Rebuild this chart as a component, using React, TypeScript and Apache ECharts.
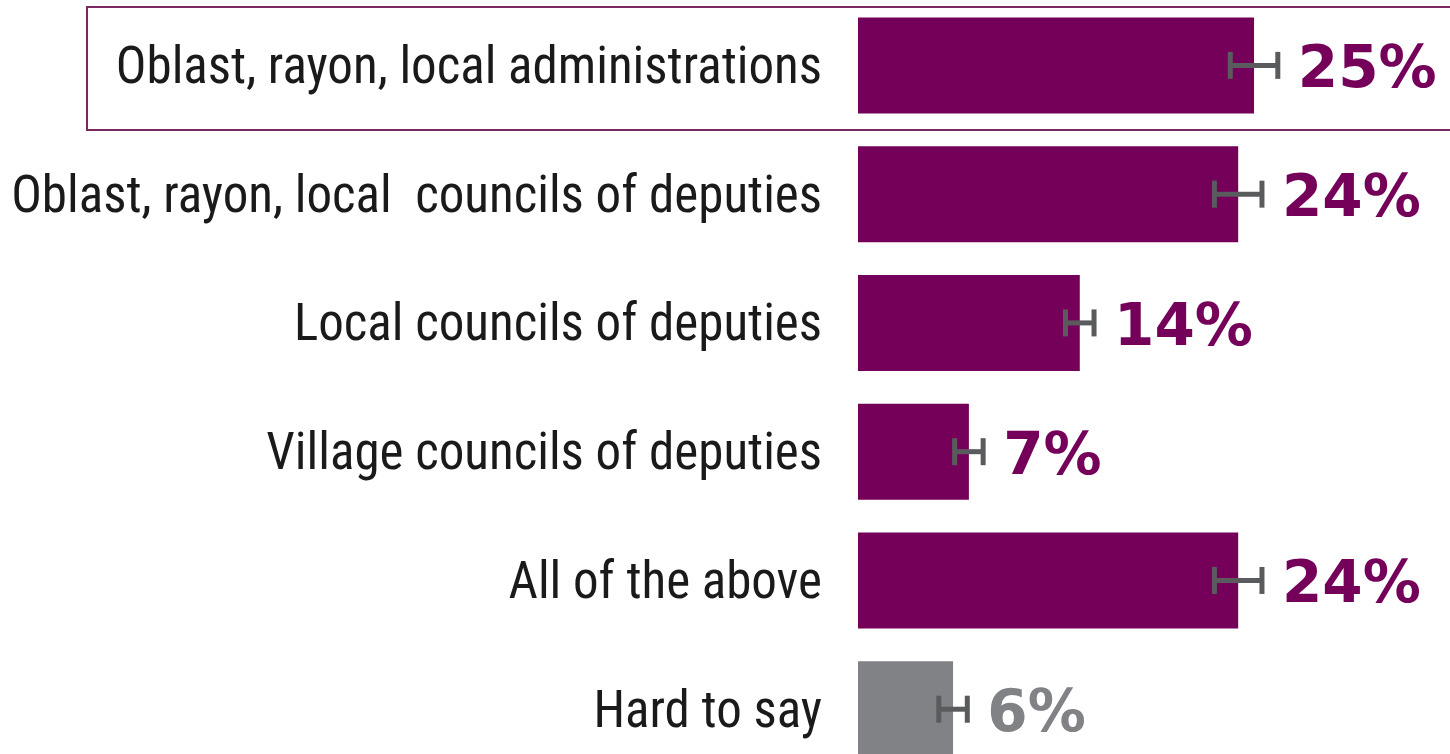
import React, { useEffect, useRef } from "react";
import * as echarts from "echarts";

const categories = [
  "Oblast, rayon, local administrations",
  "Oblast, rayon, local  councils of deputies",
  "Local councils of deputies",
  "Village councils of deputies",
  "All of the above",
  "Hard to say",
];
const values = [25, 24, 14, 7, 24, 6];
const errors = [1.5, 1.5, 0.9, 0.9, 1.5, 0.9];
const valueLabels = ["25%", "24%", "14%", "7%", "24%", "6%"];
const isNeutral = [false, false, false, false, false, true];

const PURPLE = "#74005a";
const GRAY = "#808285";
const ERR = "#5a5b5d";

export default function App() {
  const ref = useRef<HTMLDivElement>(null);
  useEffect(() => {
    if (!ref.current) return;
    const chart = echarts.init(ref.current, null, { renderer: "svg" });
    chart.setOption({
      animation: false,
      backgroundColor: "#ffffff",
      grid: { left: 858, top: 1, width: 592, height: 772.6 },
      xAxis: { type: "value", min: 0, max: 37.37, show: false },
      yAxis: {
        type: "category",
        inverse: true,
        data: categories,
        axisLine: { show: false },
        axisTick: { show: false },
        splitLine: { show: false },
        axisLabel: {
          margin: 36,
          color: "#1a1a1a",
          fontSize: 51,
          fontFamily: "'Liberation Sans Narrow', 'Roboto Condensed', Roboto, sans-serif",
        },
      },
      graphic: [
        {
          type: "rect",
          z: -10,
          shape: { x: 87, y: 7, width: 1400, height: 123 },
          style: { fill: "none", stroke: "#7a2862", lineWidth: 2 },
        },
      ],
      series: [
        {
          type: "bar",
          barWidth: 96,
          data: values.map((v, i) => ({
            value: v,
            itemStyle: { color: isNeutral[i] ? GRAY : PURPLE },
          })),
        },
        {
          type: "custom",
          z: 5,
          encode: { x: [0, 2], y: 1 },
          data: values.map((v, i) => [v, i, errors[i]]),
          renderItem: (params: any, api: any) => {
            const v = api.value(0);
            const idx = api.value(1);
            const e = api.value(2);
            const lo = api.coord([v - e, idx]);
            const hi = api.coord([v + e, idx]);
            const h = 13.5;
            const i = params.dataIndex;
            const lineStyle = { stroke: ERR, lineWidth: 5 };
            return {
              type: "group",
              children: [
                { type: "line", shape: { x1: lo[0], y1: lo[1], x2: hi[0], y2: hi[1] }, style: lineStyle },
                { type: "line", shape: { x1: lo[0], y1: lo[1] - h, x2: lo[0], y2: lo[1] + h }, style: lineStyle },
                { type: "line", shape: { x1: hi[0], y1: hi[1] - h, x2: hi[0], y2: hi[1] + h }, style: lineStyle },
                {
                  type: "text",
                  x: hi[0] + 20,
                  y: hi[1] + 2,
                  style: {
                    text: valueLabels[i],
                    fill: isNeutral[i] ? GRAY : PURPLE,
                    fontSize: 58,
                    fontWeight: "bold",
                    fontFamily: "'DejaVu Sans', sans-serif",
                    align: "left",
                    verticalAlign: "middle",
                  },
                },
              ],
            };
          },
        },
      ],
    });
    return () => chart.dispose();
  }, []);
  return (
    <div
      style={{
        position: "fixed",
        left: 0,
        top: 0,
        width: 1450,
        height: 754,
        overflow: "hidden",
        background: "#ffffff",
      }}
    >
      <div ref={ref} style={{ width: 1450, height: 780 }} />
    </div>
  );
}
